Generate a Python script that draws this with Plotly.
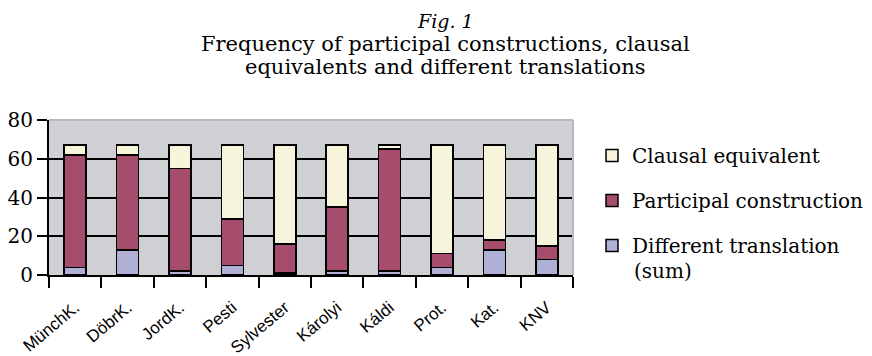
import plotly.graph_objects as go

categories = ["MünchK.", "DöbrK.", "JordK.", "Pesti", "Sylvester", "Károlyi", "Káldi", "Prot.", "Kat.", "KNV"]
different = [4, 13, 2, 5, 1, 2, 2, 4, 13, 8]
participial = [58, 49, 53, 24, 15, 33, 63, 7, 5, 7]
clausal = [5, 5, 12, 38, 51, 32, 2, 56, 49, 52]
y_ticks = [0, 20, 40, 60, 80]
title_lines = ["<i>Fig. 1</i>",
               "Frequency of participal constructions, clausal",
               "equivalents and different translations"]

serif = "DejaVu Serif"
sans = "Liberation Sans"

# the page shows the figure offset by the body margin (8px)
OFF = 8
W, H = 872 - OFF, 356 - OFF
# plot area in page pixels
L, R, T, B = 49, 573, 120, 275
PH = B - T
PW = R - L


def py(p):
    return 1 + (T - p) / PH


def px(p):
    return (p - L) / PW


fig = go.Figure()
fig.add_trace(go.Bar(x=categories, y=different, name="Different translation",
                     marker=dict(color="#aeb0d6", line=dict(color="black", width=1.5)),
                     width=0.42, legendgroup="c", legendrank=3))
fig.add_trace(go.Bar(x=categories, y=participial, name="Participal construction",
                     marker=dict(color="#a64d6e", line=dict(color="black", width=1.5)),
                     width=0.42, legendgroup="b", legendrank=2))
fig.add_trace(go.Bar(x=categories, y=clausal, name="Clausal equivalent",
                     marker=dict(color="#f6f5dc", line=dict(color="black", width=1.5)),
                     width=0.42, legendgroup="a", legendrank=1))

title_ys = [21, 44, 67]
title_sizes = [19, 21, 21]
annotations = [
    dict(text=t, xref="paper", yref="paper", x=px(445), y=py(yy), xanchor="center", yanchor="middle",
         showarrow=False, borderpad=0, font=dict(family=serif, size=s, color="black"))
    for t, yy, s in zip(title_lines, title_ys, title_sizes)
]
annotations.append(
    dict(text="(sum)", xref="paper", yref="paper", x=px(632), y=py(271),
         xanchor="left", yanchor="middle", showarrow=False,
         font=dict(family=serif, size=20, color="black")))

fig.update_layout(
    width=W, height=H,
    barmode="stack",
    paper_bgcolor="white",
    plot_bgcolor="#cfd0d3",
    margin=dict(l=L - OFF, r=(872 - R), t=T - OFF, b=(356 - B), autoexpand=False),
    legend=dict(
        x=px(592), xanchor="left", y=py(136), yanchor="top",
        traceorder="grouped", tracegroupgap=16,
        font=dict(family=serif, size=20, color="black"),
        bgcolor="rgba(0,0,0,0)",
    ),
    xaxis=dict(
        automargin=False,
        tickangle=-40, tickson="boundaries", ticks="outside", ticklen=11, tickwidth=2,
        tickcolor="black", showline=True, linecolor="black", linewidth=2,
        tickfont=dict(family=sans, size=17, color="black"),
        ticklabelstandoff=14,
        showgrid=False,
    ),
    yaxis=dict(
        automargin=False,
        range=[0, 80], tickvals=y_ticks, ticks="outside", ticklen=10, tickwidth=2,
        tickcolor="black", showline=True, linecolor="black", linewidth=2,
        gridcolor="black", gridwidth=2, zeroline=False,
        tickfont=dict(family=serif, size=20, color="black"),
    ),
    annotations=annotations,
    shapes=[
        dict(type="line", xref="paper", yref="paper", x0=0, x1=1, y0=1, y1=1,
             line=dict(color="#b8b9bc", width=2), layer="above"),
        dict(type="line", xref="paper", yref="paper", x0=1, x1=1, y0=0, y1=1,
             line=dict(color="#b8b9bc", width=2), layer="above"),
    ],
)

fig.write_html("out.html")
